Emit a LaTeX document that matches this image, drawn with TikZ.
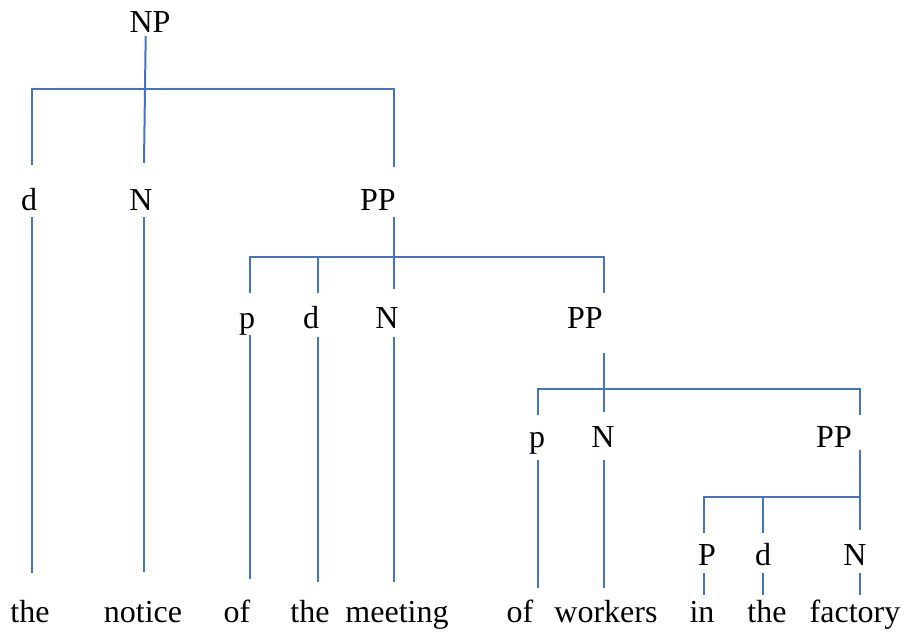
\documentclass[tikz,border=0pt]{standalone}
\usepackage{fontspec}
\setmainfont{LiberationSerif}[Extension=.ttf,UprightFont=*-Regular]
\definecolor{branch}{RGB}{68,114,196}
\begin{document}
\begin{tikzpicture}[x=1pt,y=-1pt,
  lbl/.style={inner sep=0pt, anchor=base, font=\rmfamily\fontsize{32}{32}\selectfont},
  br/.style={draw=branch, line width=2pt}]
\useasboundingbox (0,0) rectangle (906,637);

% category labels
\node[lbl] (np)   at (150,32)  {NP};
\node[lbl] (d1)   at (29,210)  {d};
\node[lbl] (n1)   at (141,210) {N};
\node[lbl] (pp1)  at (378,210) {PP};
\node[lbl] (p2)   at (247,328) {p};
\node[lbl] (d2)   at (311,328) {d};
\node[lbl] (n2)   at (387,328) {N};
\node[lbl] (pp2)  at (585,328) {PP};
\node[lbl] (p3)   at (537,447) {p};
\node[lbl] (n3)   at (603,447) {N};
\node[lbl] (pp3)  at (834,447) {PP};
\node[lbl] (p4)   at (707,565) {P};
\node[lbl] (d4)   at (763,565) {d};
\node[lbl] (n4)   at (855,565) {N};

% words
\node[lbl] (w1)  at (30,622)  {the};
\node[lbl] (w2)  at (143,622) {notice};
\node[lbl] (w3)  at (237,622) {of};
\node[lbl] (w4)  at (310,622) {the};
\node[lbl] (w5)  at (397,622) {meeting};
\node[lbl] (w6)  at (520,622) {of};
\node[lbl] (w7)  at (606,622) {workers};
\node[lbl] (w8)  at (702,622) {in};
\node[lbl] (w9)  at (767,622) {the};
\node[lbl] (w10) at (855,622) {factory};

% NP
\draw[br] (145.7,36) -- (144,163);
\draw[br] (32,165) -- (32,89) -- (394,89) -- (394,167);
\draw[br] (32,217) -- (32,573);
\draw[br] (144,217) -- (144,572);

% first PP
\draw[br] (394,217) -- (394,289);
\draw[br] (250,293) -- (250,257) -- (604,257) -- (604,293);
\draw[br] (318,257) -- (318,293);
\draw[br] (250,335) -- (250,579);
\draw[br] (318,337) -- (318,582);
\draw[br] (394,337) -- (394,582);

% second PP
\draw[br] (604,353) -- (604,412);
\draw[br] (538,415) -- (538,389) -- (860,389) -- (860,415);
\draw[br] (538,460) -- (538,588);
\draw[br] (604,460) -- (604,588);

% third PP
\draw[br] (860,450) -- (860,530);
\draw[br] (704,533) -- (704,497) -- (860,497);
\draw[br] (763,497) -- (763,533);
\draw[br] (704,573) -- (704,595);
\draw[br] (763,573) -- (763,595);
\draw[br] (860,573) -- (860,595);
\end{tikzpicture}
\end{document}
